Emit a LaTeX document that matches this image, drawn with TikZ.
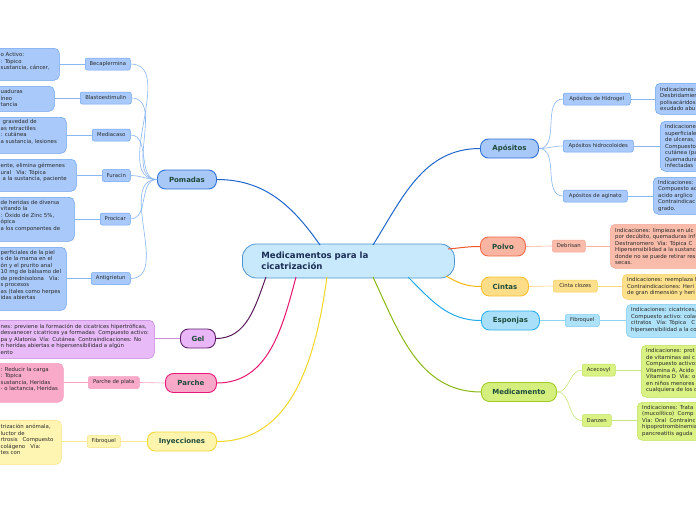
\documentclass[tikz,border=0pt]{standalone}
\usepackage{fontspec}
\setmainfont{DejaVu Sans}
\definecolor{mtext}{HTML}{1D4B3B}
\definecolor{ctext}{HTML}{1B2D55}
\definecolor{stext}{HTML}{2A2A2A}
\definecolor{cenF}{HTML}{C7E9FB}\definecolor{cenD}{HTML}{4E94D3}
\definecolor{bluF}{HTML}{A8C8F8}\definecolor{bluD}{HTML}{2F72D8}\definecolor{bluL}{HTML}{1F66CC}
\definecolor{bluSF}{HTML}{A8C9F9}\definecolor{bluSD}{HTML}{6EA4EE}\definecolor{bluSL}{HTML}{8AB6F2}
\definecolor{polF}{HTML}{F9B5A2}\definecolor{polD}{HTML}{F06A48}\definecolor{polL}{HTML}{F0582A}
\definecolor{polSF}{HTML}{F9BCAB}\definecolor{polSD}{HTML}{F4A898}\definecolor{polSL}{HTML}{F8B0A0}
\definecolor{cinF}{HTML}{FDDD88}\definecolor{cinD}{HTML}{F8C030}\definecolor{cinL}{HTML}{F8B510}
\definecolor{cinSF}{HTML}{FDE08C}\definecolor{cinSD}{HTML}{F8D060}\definecolor{cinSL}{HTML}{FCD880}
\definecolor{espF}{HTML}{A9DFF8}\definecolor{espD}{HTML}{2EB2EE}\definecolor{espL}{HTML}{22AAEA}
\definecolor{espSF}{HTML}{AEE2F9}\definecolor{espSD}{HTML}{7CCAF2}\definecolor{espSL}{HTML}{90D4F4}
\definecolor{medF}{HTML}{D5EF7E}\definecolor{medD}{HTML}{A0CC28}\definecolor{medL}{HTML}{8AB812}
\definecolor{medSF}{HTML}{D9F283}\definecolor{medSD}{HTML}{BDE05A}\definecolor{medSL}{HTML}{C8E680}
\definecolor{gelF}{HTML}{E9B6F7}\definecolor{gelD}{HTML}{5E1E6A}\definecolor{gelL}{HTML}{5A1A5A}
\definecolor{gelSF}{HTML}{E8BBF8}\definecolor{gelSD}{HTML}{C080D8}\definecolor{gelSL}{HTML}{C890D8}
\definecolor{parF}{HTML}{F9A8C8}\definecolor{parD}{HTML}{E8187A}\definecolor{parL}{HTML}{E8146E}
\definecolor{parSF}{HTML}{F9AAC9}\definecolor{parSD}{HTML}{F5A0C0}\definecolor{parSL}{HTML}{F8A0C0}
\definecolor{inyF}{HTML}{FFF4AE}\definecolor{inyD}{HTML}{F2D838}\definecolor{inyL}{HTML}{F2D822}
\definecolor{inySF}{HTML}{FFF5B2}\definecolor{inySD}{HTML}{F5E480}\definecolor{inySL}{HTML}{F8E890}
\tikzset{
  mainnode/.style={draw, line width=0.9pt, rounded corners=8pt, font=\fontsize{7}{8}\selectfont\bfseries, text=mtext, minimum height=19pt, inner sep=0pt, anchor=west},
  subnode/.style={draw, line width=0.5pt, rounded corners=2pt, font=\fontsize{5.3}{6}\selectfont, text=stext, minimum height=12pt, inner sep=0pt, anchor=west},
  boxnode/.style={draw, line width=0.5pt, rounded corners=5pt, inner sep=0pt, anchor=north west},
  dtext/.style={font=\fontsize{5.4}{6.5}\selectfont, text=stext, align=left, inner sep=0pt, anchor=west},
  mainline/.style={line width=1pt},
  subline/.style={line width=0.6pt},
}
\begin{document}
\begin{tikzpicture}[x=1pt,y=-1pt]
\useasboundingbox (0,0) rectangle (696,520);
\clip (0,0) rectangle (696,520);
\fill[white] (0,0) rectangle (696,520);

% ---------- central
\node[draw=cenD, fill=cenF, line width=0.8pt, rounded corners=14pt, minimum height=34pt, text width=174pt, inner xsep=19pt, inner ysep=0pt, align=left, anchor=west, font=\fontsize{8.6}{11}\selectfont\bfseries, text=ctext] (cen) at (242,261) {Medicamentos para la\\cicatrización};
\coordinate (cPom) at (320,245);
\coordinate (cApo) at (373,245);
\coordinate (cPol) at (448,249);
\coordinate (cCin) at (446,276);
\coordinate (cEsp) at (408,277);
\coordinate (cMed) at (373,277);
\coordinate (cGel) at (266,277);
\coordinate (cPar) at (296,277);
\coordinate (cIny) at (327,277);

% ---------- main nodes
\node[mainnode, fill=bluF, draw=bluD, minimum width=59pt] (pom) at (157,179.5) {Pomadas};
\node[mainnode, fill=bluF, draw=bluD, minimum width=58pt] (apo) at (480,148.5) {Apósitos};
\node[mainnode, fill=polF, draw=polD, minimum width=45pt] (pol) at (480,246.5) {Polvo};
\node[mainnode, fill=cinF, draw=cinD, minimum width=47pt] (cin) at (481,286.5) {Cintas};
\node[mainnode, fill=espF, draw=espD, minimum width=58pt] (esp) at (481,320.5) {Esponjas};
\node[mainnode, fill=medF, draw=medD, minimum width=75pt] (med) at (481,392) {Medicamento};
\node[mainnode, fill=gelF, draw=gelD, minimum width=35pt] (gel) at (180,338.5) {Gel};
\node[mainnode, fill=parF, draw=parD, minimum width=51pt] (par) at (165,383) {Parche};
\node[mainnode, fill=inyF, draw=inyD, minimum width=69pt] (iny) at (147,441.5) {Inyecciones};

% ---------- main connectors
\draw[mainline, bluL] (pom.east) to[out=0, in=125] (cPom);
\draw[mainline, bluL] (cApo) to[out=58, in=180] (apo.west);
\draw[mainline, polL] (cPol) to[out=5, in=180] (pol.west);
\draw[mainline, cinL] (cCin) to[out=-30, in=180] (cin.west);
\draw[mainline, espL] (cEsp) to[out=-45, in=180] (esp.west);
\draw[mainline, medL] (cMed) to[out=-65, in=180] (med.west);
\draw[mainline, gelL] (cGel) to[out=-110, in=0] (gel.east);
\draw[mainline, parL] (cPar) to[out=-105, in=0] (par.east);
\draw[mainline, inyL] (cIny) to[out=-98, in=0] (iny.east);

% ---------- Pomadas sub nodes
\node[subnode, fill=bluSF, draw=bluSD, minimum width=45pt] (beca) at (85,64) {Becaplermina};
\node[subnode, fill=bluSF, draw=bluSD, minimum width=51pt] (blas) at (80,98) {Blastoestimulin};
\node[subnode, fill=bluSF, draw=bluSD, minimum width=38pt] (medi) at (92,135) {Mediacaso};
\node[subnode, fill=bluSF, draw=bluSD, minimum width=28pt] (fura) at (102,175.5) {Furacin};
\node[subnode, fill=bluSF, draw=bluSD, minimum width=30pt] (proc) at (100,219) {Procicar};
\node[subnode, fill=bluSF, draw=bluSD, minimum width=39pt] (anti) at (91,278.5) {Antigrietun};

\node[boxnode, fill=bluSF, draw=bluSD, minimum width=79pt, minimum height=32pt] (d1) at (-20,48) {};
\node[boxnode, fill=bluSF, draw=bluSD, minimum width=74pt, minimum height=25pt] (d2) at (-20,86) {};
\node[boxnode, fill=bluSF, draw=bluSD, minimum width=86pt, minimum height=36pt] (d3) at (-20,117) {};
\node[boxnode, fill=bluSF, draw=bluSD, minimum width=96pt, minimum height=32pt] (d4) at (-20,159) {};
\node[boxnode, fill=bluSF, draw=bluSD, minimum width=94pt, minimum height=44pt] (d5) at (-20,197) {};
\node[boxnode, fill=bluSF, draw=bluSD, minimum width=86pt, minimum height=63pt] (d6) at (-20,247) {};

\node[dtext] (t1) at (0.5,61.7) {o Activo:\\: Tópico\\sustancia, cáncer,};
\node[dtext] (t2) at (0.5,98.3) {uaduras\\íneo\\tancia};
\node[dtext] (t3) at (0.5,132) {\hspace*{2pt}gravedad de\\as retractiles\\: cutánea\\a sustancia, lesiones};
\node[dtext] (t4) at (0.5,172.7) {ente, elimina gérmenes\\ural~~~Vía: Tópica\\\hspace*{2pt}a la sustancia, paciente};
\node[dtext] (t5) at (0.5,216) {de heridas de diversa\\vitando la\\: Óxido de Zinc 5\%,\\ópica\\a los componentes de};
\node[dtext] (t6) at (0.5,275) {perficiales de la piel\\s de la mama en el\\ón y el prurito anal\\10 mg de bálsamo del\\de prednisolona~~~Vía:\\s procesos\\as (tales como herpes\\idas abiertas};

\foreach \s/\d in {beca/d1, blas/d2, medi/d3, fura/d4, proc/d5, anti/d6}{
  \draw[subline, bluSL] (pom.west) to[out=180, in=0] (\s.east);
  \draw[subline, bluSL] (\s.west) -- (\d.east |- \s.west);
}

% ---------- Gel
\node[boxnode, fill=gelSF, draw=gelSD, minimum width=174pt, minimum height=38pt] (dgel) at (-20,320) {};
\node[dtext] (tgel) at (0.5,339) {nes: previene la formación de cicatrices hipertróficas,\\desvanecer cicatrices ya formadas~~Compuesto activo:\\pa y Alatonia~~Vía: Cutánea~~Contraindicaciones: No\\n heridas abiertas e hipersensibilidad a algún\\ento};
\draw[subline, gelSL] (gel.west) -- (dgel.east |- gel.west);

% ---------- Parche
\node[subnode, fill=parSF, draw=parSD, minimum width=51pt] (ppla) at (88,382.5) {Parche de plata};
\node[boxnode, fill=parSF, draw=parSD, minimum width=83pt, minimum height=39pt] (dpar) at (-20,363) {};
\node[dtext] (tpar) at (0.5,379.5) {: Reducir la carga\\: Tópica\\sustancia, Heridas\\- o lactancia, Heridas};
\draw[subline, parSL] (par.west) -- (ppla.east);
\draw[subline, parSL] (ppla.west) -- (dpar.east |- ppla.west);

% ---------- Inyecciones
\node[subnode, fill=inySF, draw=inySD, minimum width=33pt] (fibl) at (87,441.5) {Fibroquel};
\node[boxnode, fill=inySF, draw=inySD, minimum width=81pt, minimum height=44pt] (diny) at (-20,420) {};
\node[dtext] (tiny) at (0.5,439.5) {trización anómala,\\luctor de\\rtrosis~~~Compuesto\\colágeno~~~Vía:\\tes con};
\draw[subline, inySL] (iny.west) -- (fibl.east);
\draw[subline, inySL] (fibl.west) -- (diny.east |- fibl.west);

% ---------- Apositos
\node[subnode, fill=bluSF, draw=bluSD, minimum width=67pt] (hidr) at (563,99) {Apósitos de Hidrogel};
\node[subnode, fill=bluSF, draw=bluSD, minimum width=70pt] (hidc) at (563,146) {Apósitos hidrocoloides};
\node[subnode, fill=bluSF, draw=bluSD, minimum width=64pt] (agin) at (563,196) {Apósitos de aginato};
\node[boxnode, fill=bluSF, draw=bluSD, minimum width=70pt, minimum height=31pt] (dh) at (655,83) {};
\node[boxnode, fill=bluSF, draw=bluSD, minimum width=70pt, minimum height=50pt] (dhc) at (660,121) {};
\node[boxnode, fill=bluSF, draw=bluSD, minimum width=70pt, minimum height=37pt] (da) at (653,177) {};
\node[dtext] (th) at (660,99) {Indicaciones:\\Desbridamien\\polisacáridos\\exudado abu};
\node[dtext] (thc) at (665,146) {Indicaciones\\superficiales\\de ulceras,\\Compuesto\\cutánea (pa\\Quemadura\\infectadas};
\node[dtext] (ta) at (658,196) {Indicaciones:\\Compuesto ac\\acido arglico\\Contraindicac\\grado.};
\foreach \s/\d in {hidr/dh, hidc/dhc, agin/da}{
  \draw[subline, bluSL] (apo.east) to[out=0, in=180] (\s.west);
  \draw[subline, bluSL] (\s.east) -- (\d.west |- \s.east);
}

% ---------- Polvo
\node[subnode, fill=polSF, draw=polSD, minimum width=33pt] (debr) at (552,246) {Debrisan};
\node[boxnode, fill=polSF, draw=polSD, minimum width=110pt, minimum height=44pt] (dp) at (610,224) {};
\node[dtext] (tp) at (615,246.5) {Indicaciones: limpieza en ulc\\por decúbito, quemaduras inf\\Destranomero~~Vía: Tópica C\\Hipersensibilidad a la sustanc\\donde no se puede retirar res\\secas.};
\draw[subline, polSL] (pol.east) -- (debr.west);
\draw[subline, polSL] (debr.east) -- (dp.west |- debr.east);

% ---------- Cintas
\node[subnode, fill=cinSF, draw=cinSD, minimum width=44pt] (cclo) at (553,286) {Cinta clozes};
\node[boxnode, fill=cinSF, draw=cinSD, minimum width=100pt, minimum height=25pt] (dc) at (622,274) {};
\node[dtext] (tc) at (627,287) {Indicaciones: reemplaza l\\Contraindicaciones: Heri\\de gran dimensión y heri};
\draw[subline, cinSL] (cin.east) -- (cclo.west);
\draw[subline, cinSL] (cclo.east) -- (dc.west |- cclo.east);

% ---------- Esponjas
\node[subnode, fill=espSF, draw=espSD, minimum width=34pt] (fibr) at (565,320.5) {Fibroquel};
\node[boxnode, fill=espSF, draw=espSD, minimum width=100pt, minimum height=33pt] (de) at (626,304) {};
\node[dtext] (te) at (631,320) {Indicaciones: cicatrices,\\Compuesto activo: colag\\citratos~~~Vía: Tópica~~~C\\hipersensibilidad a la co};
\draw[subline, espSL] (esp.east) -- (fibr.west);
\draw[subline, espSL] (fibr.east) -- (de.west |- fibr.east);

% ---------- Medicamento
\node[subnode, fill=medSF, draw=medSD, minimum width=33pt] (acec) at (582,370) {Acecovyl};
\node[subnode, fill=medSF, draw=medSD, minimum width=29pt] (danz) at (582,420.5) {Danzen};
\node[boxnode, fill=medSF, draw=medSD, minimum width=90pt, minimum height=52pt] (dac) at (641,345) {};
\node[boxnode, fill=medSF, draw=medSD, minimum width=90pt, minimum height=38pt] (dd) at (637,402) {};
\node[dtext] (tac) at (646,371) {Indicaciones: prot\\de vitaminas así c\\Compuesto activo:\\Vitamina A, Acido\\Vitamina D~~Vía: o\\en niños menores\\cualquiera de los c};
\node[dtext] (tdd) at (642,421) {Indicaciones: Trata\\(mucolítico)~~Comp\\Vía: Oral~~Contrainc\\hipoprotrombinemia\\pancreatitis aguda};
\foreach \s/\d in {acec/dac, danz/dd}{
  \draw[subline, medSL] (med.east) to[out=0, in=180] (\s.west);
  \draw[subline, medSL] (\s.east) -- (\d.west |- \s.east);
}
\end{tikzpicture}
\end{document}
